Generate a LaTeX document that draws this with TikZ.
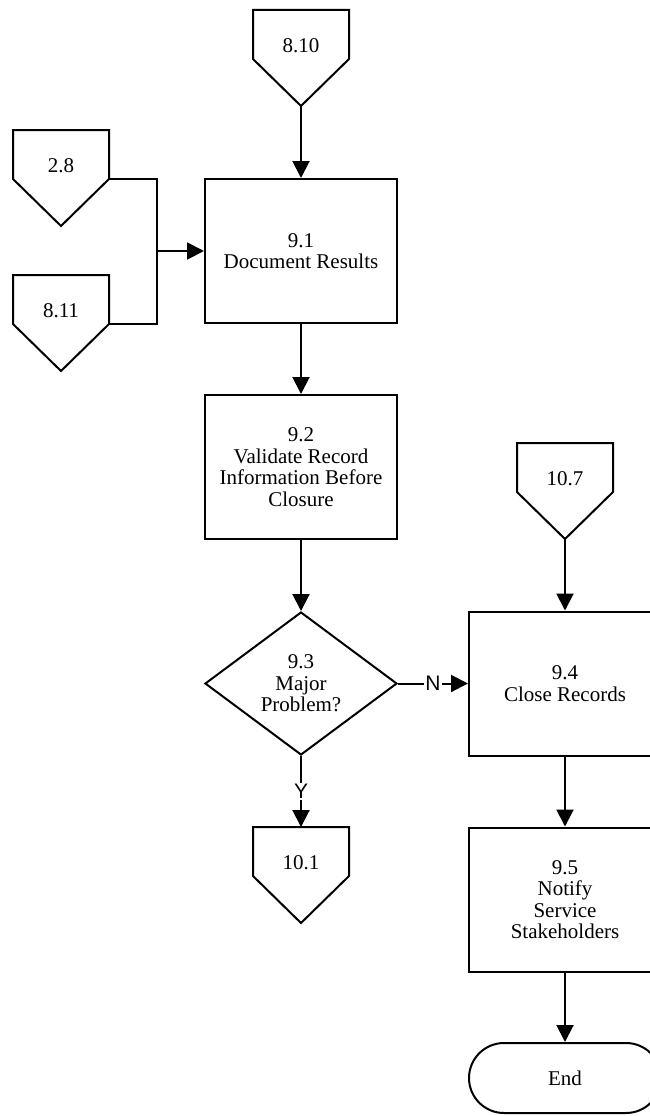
\documentclass[tikz,border=0pt]{standalone}
\usepackage{fontspec}
\setmainfont{Liberation Serif}
\newfontfamily\labelsans{Liberation Sans}
\usetikzlibrary{arrows.meta,shapes.geometric,shapes.misc}

\tikzset{
  flow/.style={line width=2pt, draw=black},
  boxtext/.style={font=\fontsize{21}{21.5}\selectfont, align=center},
  procbox/.style={flow, boxtext, rectangle, minimum width=192pt, minimum height=144pt, inner sep=0pt},
  decision/.style={flow, boxtext, diamond, aspect=1.34, minimum width=192pt, minimum height=143pt, inner sep=0pt},
  terminal/.style={flow, boxtext, rounded rectangle, minimum width=192pt, minimum height=70pt, inner sep=0pt},
  pagetext/.style={font=\fontsize{21}{21.5}\selectfont, inner sep=0pt},
  plainline/.style={line width=2pt},
  link/.style={line width=2pt, -{Triangle[length=17pt,width=17pt]}},
  branch/.style={fill=white, inner sep=1pt, font=\labelsans\fontsize{21}{21}\selectfont},
}

% off-page reference: name, centre x, top y, label
\newcommand{\offpageref}[4]{%
  \draw[plainline] (#2-48,#3) -- (#2+48,#3) -- (#2+48,#3+49) -- (#2,#3+96)
        -- (#2-48,#3+49) -- cycle;
  \node[pagetext] (#1) at (#2,#3+36) {#4};
  \coordinate (#1-top) at (#2,#3);
  \coordinate (#1-tip) at (#2,#3+96);
  \coordinate (#1-right) at (#2+48,#3+49);
}

\begin{document}
\begin{tikzpicture}[x=1pt,y=-1pt]
  \useasboundingbox (0,0) rectangle (650,1116);
  \fill[white] (0,0) rectangle (650,1116);
  \clip (0,0) rectangle (650,1116);

  % off-page references
  \offpageref{c810}{301}{10}{8.10}
  \offpageref{c28}{61}{130}{2.8}
  \offpageref{c811}{61}{275}{8.11}
  \offpageref{c107}{565}{443}{10.7}
  \offpageref{c101}{301}{827}{10.1}

  % process steps
  \node[procbox] (b91) at (301,251) {9.1\\Document Results};
  \node[procbox] (b92) at (301,467) {9.2\\Validate Record\\Information Before\\Closure};
  \node[decision] (d93) at (301,683.5) {9.3\\Major\\Problem?};
  \node[procbox] (b94) at (565,683.5) {9.4\\Close Records};
  \node[procbox] (b95) at (565,899.5) {9.5\\Notify\\Service\\Stakeholders};
  \node[terminal] (fin) at (565,1078) {End};

  % merge of the two incoming references
  \coordinate (jn) at (157,251);
  \draw[plainline] (c28-right) -| (jn);
  \draw[plainline] (c811-right) -| (jn);
  \draw[link] (jn) -- (b91.west);

  % flow
  \draw[link] (c810-tip) -- (b91.north);
  \draw[link] (b91.south) -- (b92.north);
  \draw[link] (b92.south) -- (d93.north);
  \draw[link] (d93.east) -- node[branch] {N} (b94.west);
  \draw[link] (d93.south) -- node[branch] {Y} (c101-top);
  \draw[link] (c107-tip) -- (b94.north);
  \draw[link] (b94.south) -- (b95.north);
  \draw[link] (b95.south) -- (fin.north);
\end{tikzpicture}
\end{document}
